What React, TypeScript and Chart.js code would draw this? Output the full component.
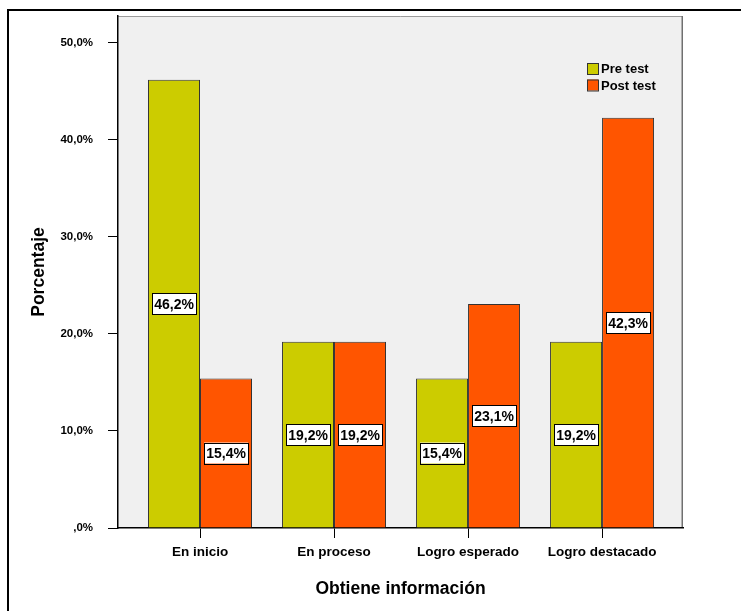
import React, { useEffect, useRef } from "react";
import { Chart, registerables } from "chart.js";

Chart.register(...registerables);

const categories = ["En inicio", "En proceso", "Logro esperado", "Logro destacado"];
const preTest = [46.2, 19.2, 15.4, 19.2];
const postTest = [15.4, 19.2, 23.1, 42.3];
const seriesNames = ["Pre test", "Post test"];
const yTicks = [0, 10, 20, 30, 40, 50];
const xTitle = "Obtiene información";
const yTitle = "Porcentaje";

const GREEN = "#cccc00";
const ORANGE = "#ff5500";
const FONT = '"Liberation Sans", Arial, sans-serif';

const fmt = (v: number) => (v === 0 ? ",0%" : v.toFixed(1).replace(".", ",") + "%");

const framePlugin = {
  id: "framePlugin",
  beforeDraw(chart: any) {
    const { ctx, chartArea: a } = chart;
    ctx.save();
    ctx.fillStyle = "#ffffff";
    ctx.fillRect(0, 0, chart.width, chart.height);
    ctx.fillStyle = "#000";
    ctx.fillRect(7, 9, 2, chart.height);
    ctx.fillRect(7, 9, chart.width, 2);
    ctx.fillStyle = "#f0f0f0";
    ctx.fillRect(a.left, a.top, a.right - a.left, a.bottom - a.top);
    ctx.strokeStyle = "#9a9a9a";
    ctx.lineWidth = 1;
    ctx.beginPath();
    ctx.moveTo(a.left, a.top + 0.5);
    ctx.lineTo(a.right - 0.5, a.top + 0.5);
    ctx.stroke();
    ctx.strokeStyle = "#707070";
    ctx.lineWidth = 1.5;
    ctx.beginPath();
    ctx.moveTo(a.right - 0.75, a.top);
    ctx.lineTo(a.right - 0.75, a.bottom);
    ctx.stroke();
    ctx.restore();
  },
  afterDatasetsDraw(chart: any) {
    const { ctx } = chart;
    ctx.save();
    ctx.font = `bold 14px ${FONT}`;
    ctx.textAlign = "center";
    ctx.textBaseline = "middle";
    chart.data.datasets.forEach((ds: any, di: number) => {
      const meta = chart.getDatasetMeta(di);
      meta.data.forEach((el: any, i: number) => {
        const v = ds.data[i].y;
        const cy = (el.y + el.base) / 2;
        const w = 44, h = 21;
        ctx.fillStyle = "#fff";
        ctx.fillRect(el.x - w / 2, cy - h / 2, w, h);
        ctx.strokeStyle = "#000";
        ctx.lineWidth = 1;
        ctx.strokeRect(Math.round(el.x - w / 2) + 0.5, Math.round(cy - h / 2) + 0.5, w, h);
        ctx.fillStyle = "#000";
        ctx.fillText(fmt(v), el.x, cy + 1.5);
      });
    });
    // legend
    const colors = [GREEN, ORANGE];
    ctx.font = `bold 13px ${FONT}`;
    ctx.textAlign = "left";
    seriesNames.forEach((name, i) => {
      const y = 63 + i * 16.5;
      ctx.fillStyle = colors[i];
      ctx.fillRect(587, y, 11, 11);
      ctx.strokeStyle = "#333";
      ctx.lineWidth = 1;
      ctx.strokeRect(587.5, y + 0.5, 11, 11);
      ctx.fillStyle = "#000";
      ctx.fillText(name, 601, y + 6.5);
    });
    ctx.restore();
  },
};

export default function App() {
  const ref = useRef<HTMLCanvasElement | null>(null);
  useEffect(() => {
    if (!ref.current) return;
    const chart = new Chart(ref.current, {
      type: "bar",
      data: {
        datasets: [
          {
            label: seriesNames[0],
            data: preTest.map((v, i) => ({ x: i, y: v })),
            backgroundColor: GREEN,
            borderColor: "#333",
            borderWidth: 1,
            categoryPercentage: 0.776,
            barPercentage: 1,
          },
          {
            label: seriesNames[1],
            data: postTest.map((v, i) => ({ x: i, y: v })),
            backgroundColor: ORANGE,
            borderColor: "#333",
            borderWidth: 1,
            categoryPercentage: 0.776,
            barPercentage: 1,
          },
        ],
      } as any,
      options: {
        animation: false,
        responsive: false,
        layout: { padding: { top: 16, right: 58, left: 0, bottom: 0 } },
        plugins: { legend: { display: false }, tooltip: { enabled: false } },
        scales: {
          x: {
            type: "linear",
            offset: false,
            min: -0.612,
            max: 3.604,
            afterBuildTicks: (s: any) => {
              s.ticks = categories.map((_, i) => ({ value: i }));
            },
            afterFit: (s: any) => {
              s.height = 83;
              s.paddingLeft = 0;
              s.paddingRight = 0;
            },
            ticks: {
              callback: (v: any) => categories[v],
              color: "#000",
              font: { family: FONT, size: 13.5, weight: "bold" },
              padding: 6,
              maxRotation: 0,
              autoSkip: false,
            },
            grid: { offset: false, drawOnChartArea: false, drawTicks: true, tickLength: 10, color: "#000" },
            border: { display: true, color: "#000", width: 1.5 },
            title: {
              display: true,
              text: xTitle,
              color: "#000",
              font: { family: FONT, size: 17.5, weight: "bold" },
              padding: { top: 0, bottom: 11 },
            },
          },
          y: {
            min: 0,
            max: 52.78,
            afterBuildTicks: (s: any) => {
              s.ticks = yTicks.map((v) => ({ value: v }));
            },
            afterFit: (s: any) => {
              s.width = 118;
              s.paddingTop = 0;
              s.paddingBottom = 0;
            },
            ticks: {
              callback: (v: any) => fmt(Number(v)),
              color: "#000",
              font: { family: FONT, size: 11.5, weight: "bold" },
              padding: 15,
            },
            grid: { drawOnChartArea: false, drawTicks: true, tickLength: 10, color: "#000" },
            border: { display: true, color: "#000", width: 1.5 },
            title: {
              display: true,
              text: yTitle,
              color: "#000",
              font: { family: FONT, size: 17.5, weight: "bold" },
              padding: { top: 28.5, bottom: 0 },
            },
          },
        },
      } as any,
      plugins: [framePlugin],
    });
    return () => chart.destroy();
  }, []);
  return (
    <div style={{ position: "absolute", left: 0, top: 0, width: 741, height: 611 }}>
      <canvas ref={ref} width={741} height={611} style={{ width: 741, height: 611 }} />
    </div>
  );
}
